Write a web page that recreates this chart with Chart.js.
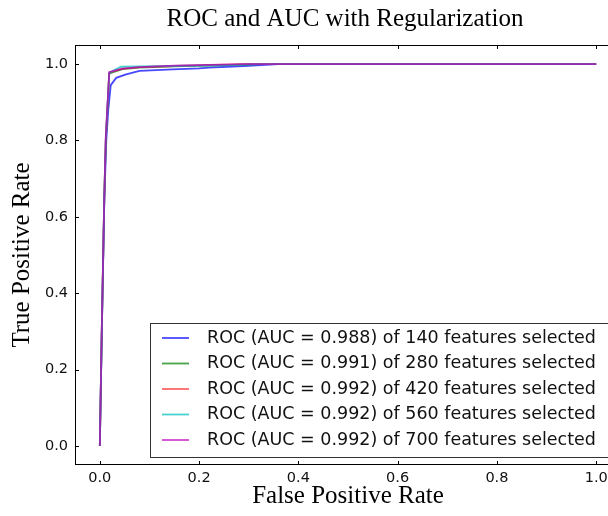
<!DOCTYPE html>
<html>
<head>
<meta charset="utf-8">
<script src="https://cdn.jsdelivr.net/npm/chart.js@4/dist/chart.umd.min.js"></script>
<style>
  html, body { margin: 0; padding: 0; background: #fff; overflow: hidden; width: 608px; height: 516px; }
  #wrap { width: 621px; height: 516px; }
</style>
</head>
<body>
<div id="wrap"><canvas id="c" width="621" height="516"></canvas></div>
<script>
// ---- data ----
const chartTitle = 'ROC and AUC with Regularization';
const xTitle = 'False Positive Rate';
const yTitle = 'True Positive Rate';
const xTicks = [0.0, 0.2, 0.4, 0.6, 0.8, 1.0];
const yTicks = [0.0, 0.2, 0.4, 0.6, 0.8, 1.0];

const seriesLabels = [
  'ROC (AUC = 0.988) of 140 features selected',
  'ROC (AUC = 0.991) of 280 features selected',
  'ROC (AUC = 0.992) of 420 features selected',
  'ROC (AUC = 0.992) of 560 features selected',
  'ROC (AUC = 0.992) of 700 features selected'
];
const seriesColors = [
  'rgba(0,0,255,0.72)',
  'rgba(0,128,0,0.72)',
  'rgba(255,0,0,0.6)',
  'rgba(0,191,191,0.72)',
  'rgba(191,0,191,0.72)'
];

const fpr140 = [0, 0.004, 0.009, 0.013, 0.017, 0.022, 0.033, 0.053, 0.08, 0.147, 0.2, 0.22, 0.29, 0.36, 1.0];
const tpr140 = [0, 0.30, 0.64, 0.80, 0.88, 0.945, 0.964, 0.973, 0.982, 0.986, 0.989, 0.991, 0.995, 1.0, 1.0];

const fpr280 = [0, 0.004, 0.009, 0.012, 0.019, 0.03, 0.046, 0.08, 0.15, 0.24, 0.33, 1.0];
const tpr280 = [0, 0.30, 0.65, 0.80, 0.975, 0.980, 0.987, 0.991, 0.994, 0.997, 1.0, 1.0];

const fpr420 = [0, 0.004, 0.009, 0.012, 0.019, 0.03, 0.046, 0.08, 0.15, 0.23, 0.30, 1.0];
const tpr420 = [0, 0.31, 0.65, 0.80, 0.978, 0.982, 0.988, 0.992, 0.995, 0.998, 1.0, 1.0];

const fpr560 = [0, 0.004, 0.009, 0.012, 0.019, 0.03, 0.043, 0.08, 0.15, 0.25, 0.32, 1.0];
const tpr560 = [0, 0.30, 0.65, 0.80, 0.977, 0.985, 0.993, 0.994, 0.995, 0.997, 1.0, 1.0];

const fpr700 = [0, 0.004, 0.009, 0.012, 0.019, 0.03, 0.046, 0.08, 0.15, 0.22, 0.29, 1.0];
const tpr700 = [0, 0.31, 0.65, 0.81, 0.979, 0.983, 0.988, 0.992, 0.996, 0.998, 1.0, 1.0];

const fprSets = [fpr140, fpr280, fpr420, fpr560, fpr700];
const tprSets = [tpr140, tpr280, tpr420, tpr560, tpr700];

// ---- build datasets ----
const datasets = seriesLabels.map((lab, i) => ({
  label: lab,
  data: fprSets[i].map((x, j) => ({ x: x, y: tprSets[i][j] })),
  borderColor: seriesColors[i],
  backgroundColor: seriesColors[i],
  borderWidth: 1.8,
  pointRadius: 0,
  tension: 0,
  fill: false,
  order: seriesLabels.length - i
}));

const serif = '"Liberation Serif", "Times New Roman", serif';
const sans = '"DejaVu Sans", sans-serif';

const framePlugin = {
  id: 'frame',
  afterDraw(chart) {
    const { ctx, chartArea: a, scales } = chart;
    ctx.save();
    // title centred over axes
    ctx.fillStyle = '#000';
    ctx.font = '25px ' + serif;
    ctx.textAlign = 'center';
    ctx.textBaseline = 'alphabetic';
    ctx.fillText(chartTitle, (a.left + a.right) / 2 - 3, 26);

    // frame
    ctx.strokeStyle = '#000';
    ctx.lineWidth = 1;
    ctx.strokeRect(a.left + 0.5, a.top + 0.5, a.right - a.left - 1, a.bottom - a.top - 1);
    // inward ticks
    const tl = 4;
    ctx.beginPath();
    xTicks.forEach(v => {
      const px = Math.round(scales.x.getPixelForValue(v)) + 0.5;
      ctx.moveTo(px, a.bottom); ctx.lineTo(px, a.bottom - tl);
      ctx.moveTo(px, a.top); ctx.lineTo(px, a.top + tl);
    });
    yTicks.forEach(v => {
      const py = Math.round(scales.y.getPixelForValue(v)) + 0.5;
      ctx.moveTo(a.left, py); ctx.lineTo(a.left + tl, py);
      ctx.moveTo(a.right, py); ctx.lineTo(a.right - tl, py);
    });
    ctx.stroke();

    // legend (lower right)
    const bx = 150.5, by = 323.5, bw = 460, bh = 134;
    ctx.fillStyle = '#fff';
    ctx.fillRect(bx, by, bw, bh);
    ctx.strokeStyle = '#333';
    ctx.strokeRect(bx, by, bw, bh);
    ctx.font = '17.5px ' + sans;
    ctx.textAlign = 'left';
    ctx.textBaseline = 'middle';
    seriesLabels.forEach((lab, i) => {
      const y = 338 + i * 25.5;
      ctx.strokeStyle = seriesColors[i];
      ctx.lineWidth = 1.8;
      ctx.beginPath();
      ctx.moveTo(162, y); ctx.lineTo(189, y);
      ctx.stroke();
      ctx.fillStyle = '#111';
      ctx.fillText(lab, 207, y);
    });
    ctx.restore();
  }
};

new Chart(document.getElementById('c'), {
  type: 'line',
  data: { datasets },
  options: {
    responsive: false,
    animation: false,
    layout: { padding: { top: 45, left: 0, right: 0, bottom: 0 } },
    plugins: { legend: { display: false }, tooltip: { enabled: false }, title: { display: false } },
    scales: {
      x: {
        type: 'linear',
        min: -0.05, max: 1.05,
        afterBuildTicks: s => { s.ticks = xTicks.map(v => ({ value: v })); },
        afterFit: s => { s.height = 51; },
        grid: { display: false, drawTicks: false },
        border: { display: false },
        ticks: { padding: 5, color: '#111', font: { family: sans, size: 14.5 }, callback: v => Number(v).toFixed(1), maxRotation: 0, autoSkip: false },
        title: { display: true, text: xTitle, color: '#000', font: { family: serif, size: 25 }, padding: { top: 0, bottom: 5 } }
      },
      y: {
        type: 'linear',
        min: -0.05, max: 1.05,
        afterBuildTicks: s => { s.ticks = yTicks.map(v => ({ value: v })); },
        afterFit: s => { s.width = 75; },
        grid: { display: false, drawTicks: false },
        border: { display: false },
        ticks: { padding: 7, color: '#111', font: { family: sans, size: 14.5 }, callback: v => Number(v).toFixed(1), autoSkip: false },
        title: { display: true, text: yTitle, color: '#000', font: { family: serif, size: 25 }, padding: { top: 7, bottom: 0 } }
      }
    }
  },
  plugins: [framePlugin]
});
</script>
</body>
</html>
